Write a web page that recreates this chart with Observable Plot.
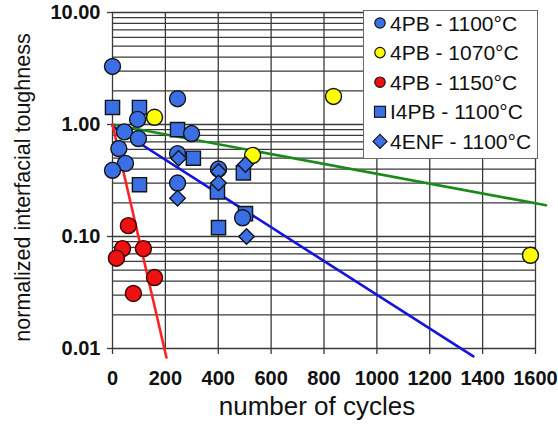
<!DOCTYPE html>
<html>
<head>
<meta charset="utf-8">
<script src="https://cdn.jsdelivr.net/npm/d3@7"></script>
<script src="https://cdn.jsdelivr.net/npm/@observablehq/plot@0.6"></script>
<style>
  html, body { margin: 0; padding: 0; background: #fff; }
  #wrap { position: relative; width: 558px; height: 428px; overflow: hidden; }
  #legend { position: absolute; left: 363px; top: 10px; width: 175px; height: 149px;
            background: #fff; border: 1.5px solid #6a6a6a; box-sizing: border-box; }
  #legend svg { display: block; }
</style>
</head>
<body>
<div id="wrap"></div>
<script>
// ---- data ----
const seriesNames = ["4PB - 1100°C", "4PB - 1070°C", "4PB - 1150°C", "I4PB - 1100°C", "4ENF - 1100°C"];

const pb1100X = [0, 95, 246, 299, 45, 98, 24, 49, 0, 246, 246, 401, 492];
const pb1100Y = [3.3, 1.11, 1.7, 0.83, 0.86, 0.75, 0.61, 0.45, 0.39, 0.55, 0.30, 0.40, 0.147];

const pb1070X = [159, 530, 836, 1581];
const pb1070Y = [1.16, 0.53, 1.78, 0.068];

const pb1150X = [60, 38, 15, 117, 159, 79];
const pb1150Y = [0.125, 0.078, 0.064, 0.078, 0.043, 0.031];

const i4pbX = [0, 102, 246, 306, 102, 397, 401, 495, 503];
const i4pbY = [1.42, 1.42, 0.90, 0.50, 0.29, 0.25, 0.12, 0.37, 0.16];

const enfX = [246, 250, 401, 401, 503, 507];
const enfY = [0.22, 0.50, 0.38, 0.30, 0.44, 0.10];

// trend lines (exponential fits, straight on the log axis)
const greenX = [0, 1640], greenY = [1.0, 0.19];
const blueX = [0, 1365], blueY = [0.97, 0.0085];
const redX = [0, 204], redY = [1.0, 0.0083];

// axes
const xTicks = [0, 200, 400, 600, 800, 1000, 1200, 1400, 1600];
const yTicks = [0.01, 0.1, 1, 10];
const xLabel = "number of cycles";
const yLabel = "normalized interfacial toughness";

// ---- build ----
const pts = (xs, ys) => xs.map((x, i) => ({x, y: ys[i]}));
const yGrid = d3.scaleLog().domain([0.01, 10]).ticks();

const BLUE = "#3b6fe6", YEL = "#ffff00", RED = "#ee1111";
const OUT = "#151515";
const font = "'Liberation Sans', Arial, sans-serif";

const chart = Plot.plot({
  width: 558, height: 428,
  marginLeft: 112, marginRight: 23, marginTop: 12, marginBottom: 80,
  style: {fontFamily: font, background: "#fff", color: "#111", overflow: "visible"},
  x: {domain: [0, 1600]},
  y: {type: "log", domain: [0.01, 10]},
  marks: [
    Plot.ruleY(yGrid, {stroke: "#3a3a3a", strokeWidth: 1.3}),
    Plot.ruleX(xTicks, {stroke: "#3a3a3a", strokeWidth: 1.3}),
    Plot.axisX(xTicks, {tickSize: 6, tickPadding: 16, fontSize: 20, fontWeight: "bold", label: null, tickFormat: d3.format("d"), stroke: "#3a3a3a", strokeWidth: 1.3}),
    Plot.axisY(yTicks, {tickSize: 5, tickPadding: 7, fontSize: 20, fontWeight: "bold", label: null, tickFormat: d3.format(".2f"), stroke: "#3a3a3a", strokeWidth: 1.3}),
    Plot.line(pts(greenX, greenY), {x: "x", y: "y", stroke: "#1a8a1a", strokeWidth: 2.6}),
    Plot.line(pts(blueX, blueY), {x: "x", y: "y", stroke: "#1414dc", strokeWidth: 2.6}),
    Plot.line(pts(redX, redY), {x: "x", y: "y", stroke: "#ff2222", strokeWidth: 2.6}),
    Plot.dot(pts(pb1070X, pb1070Y), {x: "x", y: "y", symbol: "circle", r: 8, fill: YEL, stroke: OUT, strokeWidth: 1.4}),
    Plot.dot(pts(pb1150X, pb1150Y), {x: "x", y: "y", symbol: "circle", r: 8, fill: RED, stroke: "#3a0000", strokeWidth: 1.4}),
    Plot.dot(pts(i4pbX, i4pbY), {x: "x", y: "y", symbol: "square", r: 8, fill: BLUE, stroke: OUT, strokeWidth: 1.4}),
    Plot.dot(pts(pb1100X, pb1100Y), {x: "x", y: "y", symbol: "circle", r: 8, fill: BLUE, stroke: OUT, strokeWidth: 1.4}),
    Plot.dot(pts(enfX, enfY), {x: "x", y: "y", symbol: "diamond2", r: 7, fill: BLUE, stroke: OUT, strokeWidth: 1.4}),
    Plot.text([xLabel], {frameAnchor: "bottom", textAnchor: "middle", lineAnchor: "middle", dx: -7, dy: 58, fontSize: 26, fill: "#111"}),
    Plot.text([yLabel], {frameAnchor: "left", textAnchor: "middle", lineAnchor: "middle", dx: -89, dy: 7, rotate: -90, fontSize: 21.5, fill: "#111"})
  ]
});

const wrap = document.getElementById("wrap");
wrap.appendChild(chart);

// ---- legend (inside the plot, top right) ----
const legend = document.createElement("div");
legend.id = "legend";
wrap.appendChild(legend);
const symbols = [
  {shape: "circle", fill: BLUE},
  {shape: "circle", fill: YEL},
  {shape: "circle", fill: RED},
  {shape: "square", fill: BLUE},
  {shape: "diamond", fill: BLUE}
];
const lsvg = d3.select(legend).append("svg").attr("width", 172).attr("height", 146);
seriesNames.forEach((name, i) => {
  const cy = 12 + i * 29.6, cx = 16;
  const s = symbols[i];
  if (s.shape === "circle") {
    lsvg.append("circle").attr("cx", cx).attr("cy", cy).attr("r", 5.2)
      .attr("fill", s.fill).attr("stroke", OUT).attr("stroke-width", 1.2);
  } else if (s.shape === "square") {
    lsvg.append("rect").attr("x", cx - 5.5).attr("y", cy - 5.5).attr("width", 11).attr("height", 11)
      .attr("fill", s.fill).attr("stroke", OUT).attr("stroke-width", 1.2);
  } else {
    lsvg.append("path").attr("d", `M${cx},${cy - 7}L${cx + 7},${cy}L${cx},${cy + 7}L${cx - 7},${cy}Z`)
      .attr("fill", s.fill).attr("stroke", OUT).attr("stroke-width", 1.2);
  }
  lsvg.append("text").attr("x", 26).attr("y", cy).attr("dy", "0.36em")
    .attr("font-family", font).attr("font-size", 21).attr("fill", "#111").text(name);
});
</script>
</body>
</html>
